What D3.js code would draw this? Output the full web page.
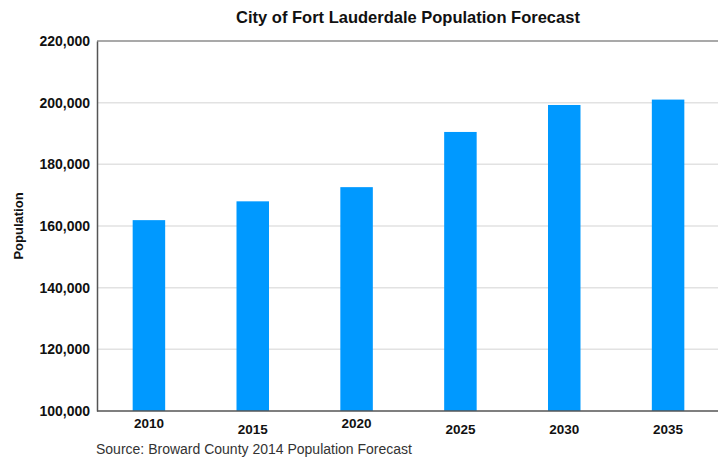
<!DOCTYPE html>
<html>
<head>
<meta charset="utf-8">
<script src="https://cdn.jsdelivr.net/npm/d3@7"></script>
<style>
  body { margin: 0; background: #fff; }
  svg { display: block; font-family: "Liberation Sans", Arial, Helvetica, sans-serif; }
</style>
</head>
<body>
<svg id="chart"></svg>
<script>
// values
const years = ['2010', '2015', '2020', '2025', '2030', '2035'];
const population = [161900, 168000, 172600, 190500, 199250, 201000];
const yTicks = [100000, 120000, 140000, 160000, 180000, 200000, 220000];

const chartTitle = 'City of Fort Lauderdale Population Forecast';
const yLabel = 'Population';
const sourceNote = 'Source: Broward County 2014 Population Forecast';

const width = 718, height = 459;
const margin = { top: 41, right: 0, bottom: 48, left: 97 };

const svg = d3.select('#chart')
    .attr('width', width)
    .attr('height', height);

const data = years.map((y, i) => ({ year: y, value: population[i] }));

// bands run slightly past the right edge, like the cropped original
const xScale = d3.scaleBand()
    .domain(years)
    .range([margin.left, 720])
    .paddingInner(0.687)
    .paddingOuter(0.3435);

const yScale = d3.scaleLinear()
    .domain([100000, 220000])
    .range([height - margin.bottom, margin.top]);

// gridlines
svg.append('g')
    .selectAll('line')
    .data(yTicks.slice(1, -1))
    .join('line')
    .attr('x1', margin.left)
    .attr('x2', width)
    .attr('y1', d => yScale(d))
    .attr('y2', d => yScale(d))
    .attr('stroke', '#e2e2e2')
    .attr('stroke-width', 1.5);

// bars
svg.append('g')
    .selectAll('rect')
    .data(data)
    .join('rect')
    .attr('x', d => xScale(d.year))
    .attr('width', xScale.bandwidth())
    .attr('y', d => yScale(d.value))
    .attr('height', d => yScale(100000) - yScale(d.value))
    .attr('fill', '#0099ff');

// top border line at 220,000
svg.append('line')
    .attr('x1', margin.left)
    .attr('x2', width)
    .attr('y1', yScale(220000))
    .attr('y2', yScale(220000))
    .attr('stroke', '#555')
    .attr('stroke-width', 1.2);

// y axis
const yAxis = d3.axisLeft(yScale)
    .tickValues(yTicks)
    .tickFormat(d3.format(','))
    .tickSize(0)
    .tickPadding(7);

const yAxisG = svg.append('g')
    .attr('transform', `translate(${margin.left},0)`)
    .call(yAxis);
yAxisG.select('.domain').attr('stroke', '#555').attr('stroke-width', 1.5);
yAxisG.selectAll('text')
    .attr('font-size', 14)
    .attr('font-weight', 'bold')
    .attr('fill', '#111')
    .attr('font-family', '"Liberation Sans", Arial, sans-serif');

// x axis
const xAxis = d3.axisBottom(xScale)
    .tickSize(0)
    .tickPadding(7);

const xAxisG = svg.append('g')
    .attr('transform', `translate(0,${yScale(100000)})`)
    .call(xAxis);
xAxisG.select('.domain')
    .attr('d', `M${margin.left},0H${width}`)
    .attr('stroke', '#555')
    .attr('stroke-width', 1.5);
// the original labels sit on two slightly different rows
xAxisG.selectAll('text')
    .attr('font-size', 13.5)
    .attr('font-weight', 'bold')
    .attr('fill', '#111')
    .attr('font-family', '"Liberation Sans", Arial, sans-serif')
    .attr('dy', (d, i) => (i === 0 || i === 2 ? '0.71em' : '1.15em'));

// title
svg.append('text')
    .attr('x', 408)
    .attr('y', 23)
    .attr('text-anchor', 'middle')
    .attr('font-size', 16.5)
    .attr('font-weight', 'bold')
    .attr('fill', '#111')
    .text(chartTitle);

// y label
svg.append('text')
    .attr('transform', `translate(23,226) rotate(-90)`)
    .attr('text-anchor', 'middle')
    .attr('font-size', 13)
    .attr('font-weight', 'bold')
    .attr('fill', '#111')
    .text(yLabel);

// source note
svg.append('text')
    .attr('x', 96)
    .attr('y', 454)
    .attr('font-size', 14)
    .attr('fill', '#333')
    .text(sourceNote);
</script>
</body>
</html>
